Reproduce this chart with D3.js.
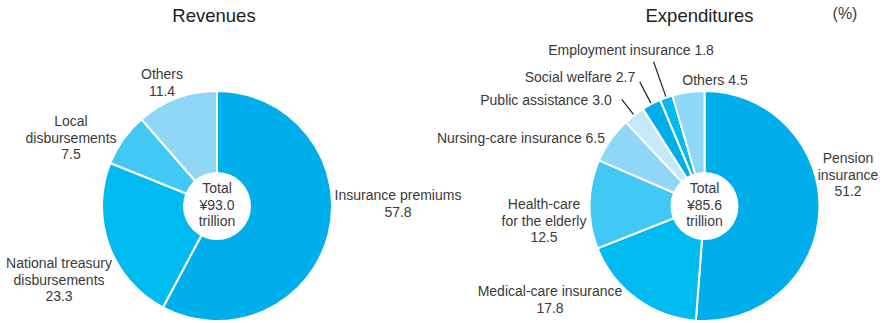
<!DOCTYPE html>
<html>
<head>
<meta charset="utf-8">
<script src="https://cdn.jsdelivr.net/npm/d3@7"></script>
<style>
  body { margin: 0; background: #fff; }
  svg { display: block; font-family: "Liberation Sans", Arial, sans-serif; }
  .lbl { fill: #3a3a3a; font-size: 14px; }
  .ttl { fill: #222; font-size: 18.5px; }
</style>
</head>
<body>
<svg id="chart" width="886" height="323"></svg>
<script>

// revenues (%), total 93.0 trillion yen
const revCategories = ["Insurance premiums", "National treasury disbursements", "Local disbursements", "Others"];
const revValues = [57.8, 23.3, 7.5, 11.4];
const revTotal = "¥93.0";

// expenditures (%), total 85.6 trillion yen
const expCategories = ["Pension insurance", "Medical-care insurance", "Health-care for the elderly",
    "Nursing-care insurance", "Public assistance", "Social welfare", "Employment insurance", "Others"];
const expValues = [51.2, 17.8, 12.5, 6.5, 3.0, 2.7, 1.8, 4.5];
const expTotal = "¥85.6";

const revColors = ["#00aeeb", "#00bbf0", "#41c8f4", "#8ed7f6"];
const expColors = ["#00aeeb", "#00bbf0", "#41c8f4", "#8ed7f6", "#c6e9f9", "#00aeeb", "#00bbf0", "#8ed7f6"];

// label layout: text lines, offset from pie center (x = middle, y = first line)
const revLabels = [
    {lines: ["Insurance premiums", "57.8"], dx: 181, dy: -11},
    {lines: ["National treasury", "disbursements", "23.3"], dx: -158, dy: 57},
    {lines: ["Local", "disbursements", "7.5"], dx: -146, dy: -85},
    {lines: ["Others", "11.4"], dx: -55, dy: -132}
];
const expLabels = [
    {lines: ["Pension", "insurance", "51.2"], dx: 143.5, dy: -48},
    {lines: ["Medical-care insurance", "17.8"], dx: -154.5, dy: 85},
    {lines: ["Health-care", "for the elderly", "12.5"], dx: -160.5, dy: -2},
    {lines: ["Nursing-care insurance 6.5"], dx: -183.5, dy: -68},
    {lines: ["Public assistance 3.0"], dx: -158.5, dy: -106, leader: 20},
    {lines: ["Social welfare 2.7"], dx: -124.5, dy: -129, leader: 25},
    {lines: ["Employment insurance 1.8"], dx: -73.5, dy: -156, leader: 38},
    {lines: ["Others 4.5"], dx: 10.5, dy: -126}
];

const svg = d3.select("#chart");
const radius = 115;
const hole = 34;
const lineH = 16.6;

function drawPie(cx, cy, title, values, colors, labels, total) {
    const g = svg.append("g").attr("transform", `translate(${cx},${cy})`);

    const pie = d3.pie().sort(null).value(d => d);
    const arcs = pie(values);
    const arc = d3.arc().innerRadius(0).outerRadius(radius);

    g.selectAll("path.slice")
        .data(arcs)
        .join("path")
        .attr("class", "slice")
        .attr("d", arc)
        .attr("fill", (d, i) => colors[i])
        .attr("stroke", "#fff")
        .attr("stroke-width", 2)
        .attr("stroke-linejoin", "round");

    g.append("circle").attr("r", hole).attr("fill", "#fff");

    // centre text
    const ct = g.append("text").attr("class", "lbl").attr("text-anchor", "middle");
    ["Total", total, "trillion"].forEach((t, i) => {
        ct.append("tspan").attr("x", 0).attr("y", -18 + i * lineH + 5).text(t);
    });

    // leader lines (radial, from slice edge outwards)
    arcs.forEach((d, i) => {
        const lab = labels[i];
        if (!lab.leader) return;
        const a = (d.startAngle + d.endAngle) / 2;
        const r0 = radius + 1, r1 = radius + lab.leader;
        g.append("line")
            .attr("x1", r0 * Math.sin(a)).attr("y1", -r0 * Math.cos(a))
            .attr("x2", r1 * Math.sin(a)).attr("y2", -r1 * Math.cos(a))
            .attr("stroke", "#222").attr("stroke-width", 1.2);
    });

    labels.forEach(lab => {
        const t = g.append("text").attr("class", "lbl").attr("text-anchor", "middle");
        lab.lines.forEach((s, i) => {
            t.append("tspan").attr("x", lab.dx).attr("y", lab.dy + i * lineH + 5).text(s);
        });
    });

    svg.append("text").attr("class", "ttl")
        .attr("text-anchor", "middle")
        .attr("x", title.x).attr("y", 22)
        .text(title.text);
}

drawPie(217, 206, {text: "Revenues", x: 214}, revValues, revColors, revLabels, revTotal);
drawPie(704.5, 206, {text: "Expenditures", x: 699.5}, expValues, expColors, expLabels, expTotal);

svg.append("text").attr("class", "lbl")
    .attr("x", 845).attr("y", 19)
    .attr("text-anchor", "middle")
    .style("font-size", "16px")
    .text("(%)");

</script>
</body>
</html>
